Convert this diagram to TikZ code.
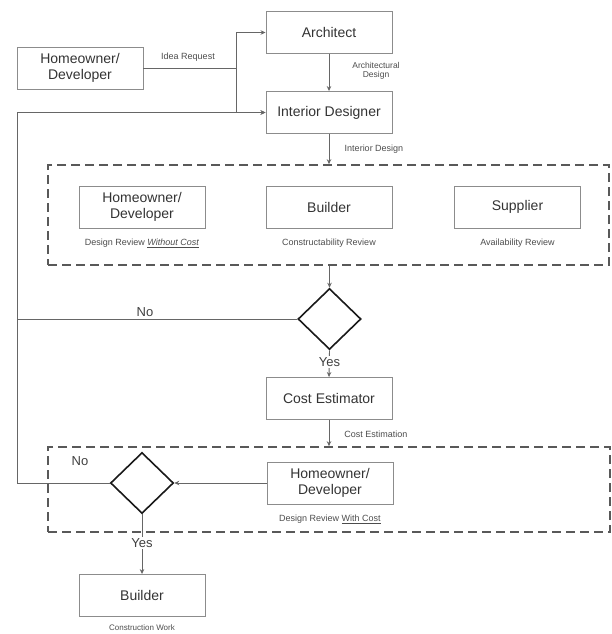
\documentclass[tikz,border=0pt]{standalone}
\usepackage{fontspec}
\setmainfont{Liberation Sans}
\usetikzlibrary{shapes.geometric,arrows.meta}
\begin{document}
\begin{tikzpicture}[x=1pt,y=-1pt,
  box/.style={draw=black!45, line width=0.9pt, minimum width=126pt, minimum height=42pt, inner sep=0pt, align=center, font=\fontsize{14}{16}\selectfont, text=black!80},
  dia/.style={diamond, draw=black!90, line width=1.6pt, minimum width=63pt, minimum height=61pt, inner sep=0pt, aspect=1},
  small/.style={font=\fontsize{9}{10}\selectfont, text=black!70, inner sep=0pt, align=center},
  yn/.style={font=\fontsize{13}{14}\selectfont, text=black!75, inner sep=1pt},
  conn/.style={draw=black!60, line width=0.9pt},
  arr/.style={conn, -{Stealth[length=5pt,width=4.5pt]}},
  dbox/.style={draw=black!65, line width=1.6pt, dash pattern=on 9pt off 5pt, inner sep=0pt},
]
\useasboundingbox (0,0) rectangle (612,634);

% dashed groups
\node[dbox, minimum width=561pt, minimum height=100pt] (g1) at (328.5,215) {};
\node[dbox, minimum width=562pt, minimum height=85pt] (g2) at (329,489.5) {};

% boxes
\node[box] (hd1) at (80,68) {Homeowner/\\Developer};
\node[box] (arch) at (329,32.5) {Architect};
\node[box] (id) at (329,112.5) {Interior Designer};
\node[box] (hd2) at (142,207) {Homeowner/\\Developer};
\node[box] (bl1) at (329,207) {Builder};
\node[box] (sup) at (517.5,207) {Supplier};
\node[dia] (d1) at (329.5,319) {};
\node[box] (ce) at (329,398.5) {Cost Estimator};
\node[dia] (d2) at (142,483) {};
\node[box] (hd3) at (330,483) {Homeowner/\\Developer};
\node[box] (bl2) at (142,595.5) {Builder};

% small labels
\node[small] (l1) at (188,57) {Idea Request};
\node[small, font=\fontsize{8.5}{9.5}\selectfont] (l2) at (376,71) {Architectural\\Design};
\node[small] (l3) at (374,149) {Interior Design};
\node[small] (l4) at (142,243) {Design Review \underline{\textit{Without Cost}}};
\node[small] (l5) at (329,243) {Constructability Review};
\node[small] (l6) at (517.5,243) {Availability Review};
\node[small] (l7) at (376,434) {Cost Estimation};
\node[small] (l8) at (330,519) {Design Review \underline{With Cost}};
\node[small, font=\fontsize{8}{9}\selectfont] (l9) at (142,627.5) {Construction Work};

% connectors
\coordinate (j) at (236,68);
\coordinate (lt) at (17,112.5);
\draw[conn] (hd1.east) -- (j);
\draw[arr] (j) |- (arch.west);
\draw[arr] (j) |- (id.west);
\draw[arr] (arch.south) -- (id.north);
\draw[arr] (id.south) -- (id.south |- g1.north);
\draw[arr] (g1.south -| d1.north) -- (d1.north);
\draw[arr] (d1.south) -- (ce.north);
\draw[arr] (ce.south) -- (ce.south |- g2.north);
\draw[arr] (hd3.west) -- (d2.east);
\draw[arr] (d2.south) -- (bl2.north);
\draw[arr] (d1.west) -| (lt) -- (id.west);
\draw[conn] (d2.west) -| (lt);

% yes / no
\node[yn] (n1) at (145,312) {No};
\node[yn] (n2) at (80,461) {No};
\node[yn, fill=white] (y1) at (329.5,362) {Yes};
\node[yn, fill=white] (y2) at (142,543) {Yes};
\end{tikzpicture}
\end{document}
